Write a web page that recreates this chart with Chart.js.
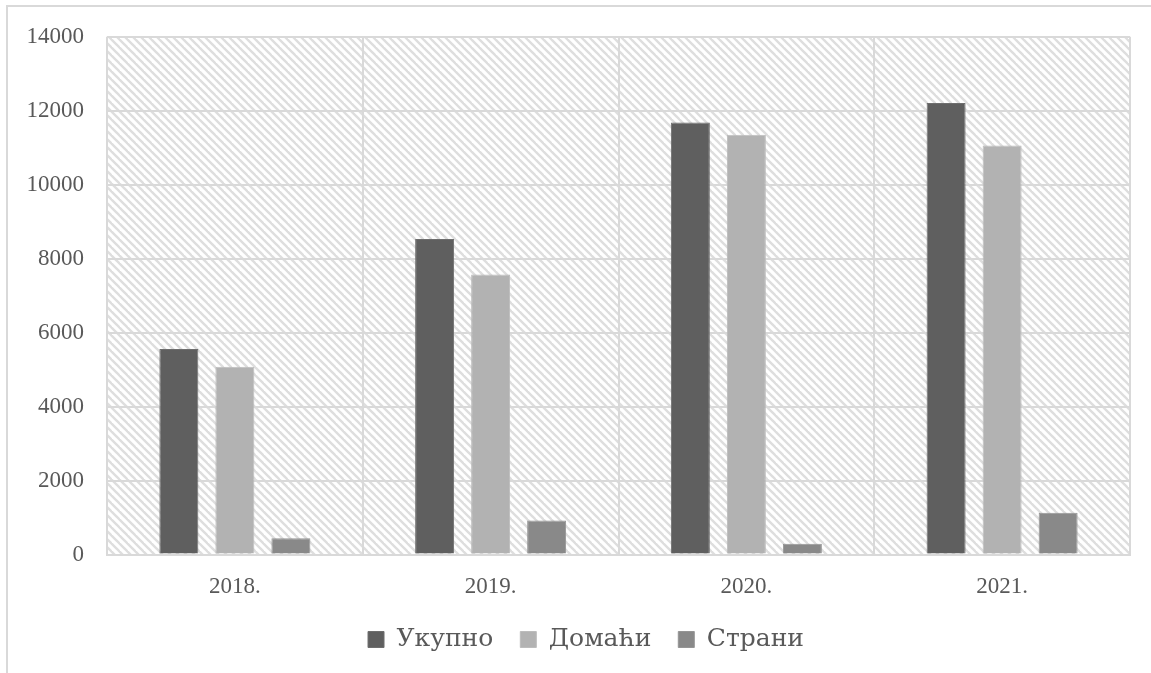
<!DOCTYPE html>
<html>
<head>
<meta charset="utf-8">
<script src="https://cdn.jsdelivr.net/npm/chart.js@4"></script>
<style>
  html, body { margin: 0; padding: 0; background: #ffffff; }
  #wrap { position: relative; width: 1151px; height: 673px; }
</style>
</head>
<body>
<div id="wrap"><canvas id="chart" width="1151" height="673"></canvas></div>
<script>
// Број студената по годинама
const years = ['2018.', '2019.', '2020.', '2021.'];
const ukupno = [5560, 8530, 11680, 12210];
const domaci = [5080, 7570, 11350, 11060];
const strani = [440, 920, 290, 1130];
const yTicks = [0, 2000, 4000, 6000, 8000, 10000, 12000, 14000];
const seriesNames = ['Укупно', 'Домаћи', 'Страни'];

const AXIS_FONT = '"Liberation Serif", "DejaVu Serif", serif';
const LEGEND_FONT = '"DejaVu Serif", "Liberation Serif", serif';
const TEXT = '#595959';
const GRID = '#d9d9d9';

// diagonal hatch used behind the plot area
function makeHatch() {
  const s = 8;
  const c = document.createElement('canvas');
  c.width = s; c.height = s;
  const g = c.getContext('2d');
  g.fillStyle = '#ffffff';
  g.fillRect(0, 0, s, s);
  g.strokeStyle = '#dedede';
  g.lineWidth = 2.4;
  for (const k of [-s, 0, s]) {
    g.beginPath();
    g.moveTo(k - 1, -1);
    g.lineTo(k + s + 1, s + 1);
    g.stroke();
  }
  return g.createPattern(c, 'repeat');
}

const backdrop = {
  id: 'backdrop',
  afterLayout(chart) {
    // legend sits a little right of the canvas centre
    if (chart.legend) {
      chart.legend.left += 21;
      chart.legend.right += 21;
    }
  },
  beforeDraw(chart) {
    const { ctx, chartArea: a } = chart;
    ctx.save();
    ctx.strokeStyle = GRID;
    ctx.lineWidth = 2;
    ctx.strokeRect(7, 6, 1200, 800);
    ctx.fillStyle = makeHatch();
    ctx.fillRect(a.left, a.top, a.right - a.left, a.bottom - a.top);
    ctx.restore();
  }
};

new Chart(document.getElementById('chart'), {
  type: 'bar',
  data: {
    labels: years,
    datasets: [
      { label: seriesNames[0], data: ukupno, backgroundColor: '#5f5f5f', borderColor: '#6e6e6e', borderWidth: 1 },
      { label: seriesNames[1], data: domaci, backgroundColor: '#b2b2b2', borderColor: '#bcbcbc', borderWidth: 1 },
      { label: seriesNames[2], data: strani, backgroundColor: '#898989', borderColor: '#959595', borderWidth: 1 }
    ]
  },
  options: {
    responsive: false,
    animation: false,
    devicePixelRatio: 1,
    layout: { padding: { left: 0, right: 21, top: 35, bottom: 11 } },
    datasets: { bar: { categoryPercentage: 0.657, barPercentage: 0.696 } },
    scales: {
      x: {
        grid: { color: GRID, lineWidth: 2, drawTicks: false, offset: true },
        border: { color: GRID, width: 2 },
        ticks: { color: TEXT, font: { family: AXIS_FONT, size: 23 }, padding: 19 },
        afterFit(scale) { scale.height = 45.5; }
      },
      y: {
        min: 0,
        max: 14000,
        afterBuildTicks(scale) { scale.ticks = yTicks.map(v => ({ value: v })); },
        grid: { color: GRID, lineWidth: 2, drawTicks: false },
        border: { display: false },
        ticks: {
          color: TEXT,
          font: { family: AXIS_FONT, size: 23 },
          padding: 23,
          callback: (v) => String(v)
        },
        afterFit(scale) { scale.width = 107; }
      }
    },
    plugins: {
      legend: {
        position: 'bottom',
        labels: {
          color: TEXT,
          font: { family: LEGEND_FONT, size: 25 },
          boxWidth: 16,
          boxHeight: 16,
          padding: 27
        }
      },
      tooltip: { enabled: false }
    }
  },
  plugins: [backdrop]
});
</script>
</body>
</html>
